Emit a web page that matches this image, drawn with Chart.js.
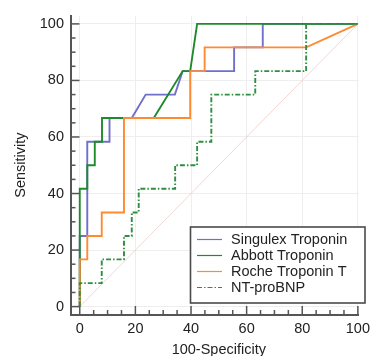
<!DOCTYPE html>
<html>
<head>
<meta charset="utf-8">
<script src="https://cdn.jsdelivr.net/npm/chart.js@4"></script>
<style>
    body { margin: 0; background: #fff; }
    #wrap { width: 376px; height: 356px; }
</style>
</head>
<body>
<div id="wrap"><canvas id="rocChart"></canvas></div>
<script>
const seriesNames = ["Singulex Troponin", "Abbott Troponin", "Roche Troponin T", "NT-proBNP"];
const tickValues = [0, 20, 40, 60, 80, 100];
const xTitle = "100-Specificity";
const yTitle = "Sensitivity";

const singulexX = [0, 0, 2.7, 2.7, 10.7, 10.7, 18.7, 23.7, 34.2, 37.0, 55.5, 55.5, 65.8, 65.8, 100];
const singulexY = [0, 25, 25, 58.3, 58.3, 66.7, 66.7, 75, 75, 83.3, 83.3, 91.7, 91.7, 100, 100];

const abbottX = [0, 0, 2.7, 2.7, 5.4, 5.4, 8.0, 8.0, 26.6, 37.0, 39.7, 42.2, 100];
const abbottY = [0, 41.7, 41.7, 50, 50, 58.3, 58.3, 66.7, 66.7, 83.3, 83.3, 100, 100];

const rocheX = [0, 0, 2.7, 2.7, 7.9, 7.9, 15.9, 15.9, 39.7, 39.7, 44.9, 44.9, 81.4, 100];
const rocheY = [0, 16.7, 16.7, 25, 25, 33.3, 33.3, 66.7, 66.7, 83.3, 83.3, 91.7, 91.7, 100];

const ntX = [0, 0, 7.9, 7.9, 15.9, 15.9, 18.7, 18.7, 21.2, 21.2, 34.3, 34.3, 42.2, 42.2, 47.3, 47.3, 63.1, 63.1, 81.4, 81.4, 100];
const ntY = [0, 8.3, 8.3, 16.7, 16.7, 25, 25, 33.3, 33.3, 41.7, 41.7, 50, 50, 58.3, 58.3, 75, 75, 83.3, 83.3, 100, 100];

const diagX = [0, 100];
const diagY = [0, 100];

function pts(xs, ys) {
    return xs.map((x, i) => ({ x: x, y: ys[i] }));
}

const FONT = "'Liberation Sans', Arial, sans-serif";

// inward minor/major ticks on both axes
const axisTicks = {
    id: "axisTicks",
    afterDatasetsDraw(chart) {
        const ctx = chart.ctx;
        const xs = chart.scales.x;
        const ys = chart.scales.y;
        const area = chart.chartArea;
        ctx.save();
        ctx.strokeStyle = "#555";
        ctx.lineWidth = 1.5;
        for (let v = 0; v <= 100; v += 5) {
            const len = v % 20 === 0 ? 8.5 : 4.5;
            const px = xs.getPixelForValue(v);
            ctx.beginPath();
            ctx.moveTo(px, area.bottom);
            ctx.lineTo(px, area.bottom - len);
            ctx.stroke();
            const py = ys.getPixelForValue(v);
            ctx.beginPath();
            ctx.moveTo(area.left, py);
            ctx.lineTo(area.left + len, py);
            ctx.stroke();
        }
        // x title centred under the data range
        ctx.font = "14.5px " + FONT;
        ctx.fillStyle = "#222";
        ctx.textAlign = "center";
        ctx.textBaseline = "middle";
        ctx.fillText(xTitle, xs.getPixelForValue(50), 349.5);
        ctx.restore();
    }
};

// boxed legend inside the plot, lower right
const boxLegend = {
    id: "boxLegend",
    afterDraw(chart) {
        const ctx = chart.ctx;
        const x0 = 190.5, y0 = 227, w = 174.5, h = 76;
        ctx.save();
        ctx.fillStyle = "#fff";
        ctx.fillRect(x0, y0, w, h);
        ctx.strokeStyle = "#4a4a4a";
        ctx.lineWidth = 1.6;
        ctx.strokeRect(x0, y0, w, h);
        ctx.font = "14.5px " + FONT;
        ctx.textBaseline = "middle";
        ctx.fillStyle = "#222";
        seriesNames.forEach((name, i) => {
            const ds = chart.data.datasets[i];
            const cy = y0 + 12.5 + i * 16;
            ctx.beginPath();
            ctx.strokeStyle = ds.borderColor;
            ctx.lineWidth = 1.2;
            ctx.setLineDash(ds.borderDash || []);
            ctx.moveTo(197, cy);
            ctx.lineTo(222, cy);
            ctx.stroke();
            ctx.setLineDash([]);
            ctx.fillText(name, 231, cy + 0.5);
        });
        ctx.restore();
    }
};

new Chart(document.getElementById("rocChart"), {
    type: "scatter",
    data: {
        datasets: [
            {
                label: seriesNames[0],
                data: pts(singulexX, singulexY),
                borderColor: "#6f6fcc",
                borderWidth: 1.9,
                order: 4
            },
            {
                label: seriesNames[1],
                data: pts(abbottX, abbottY),
                borderColor: "#1f8a2c",
                borderWidth: 1.9,
                order: 3
            },
            {
                label: seriesNames[2],
                data: pts(rocheX, rocheY),
                borderColor: "#ff8a30",
                borderWidth: 1.9,
                order: 2
            },
            {
                label: seriesNames[3],
                data: pts(ntX, ntY),
                borderColor: "#2e8f40",
                borderWidth: 1.9,
                borderDash: [5, 2, 1.5, 2],
                order: 1
            },
            {
                label: "diagonal",
                data: pts(diagX, diagY),
                borderColor: "rgba(235, 185, 185, 0.6)",
                borderWidth: 1,
                order: 5
            }
        ]
    },
    options: {
        responsive: true,
        maintainAspectRatio: false,
        animation: false,
        showLine: true,
        elements: {
            point: { radius: 0, hoverRadius: 0 },
            line: { tension: 0, fill: false }
        },
        layout: { padding: { top: 12, right: 9, left: 0, bottom: 0 } },
        plugins: {
            legend: { display: false },
            tooltip: { enabled: false }
        },
        scales: {
            x: {
                type: "linear",
                min: -3.15,
                max: 100.35,
                afterBuildTicks: s => { s.ticks = tickValues.map(v => ({ value: v })); },
                afterFit: s => { s.height = 41.5; },
                grid: { color: "#eeeeee", lineWidth: 1, drawTicks: false },
                border: { display: true, color: "#555", width: 2 },
                ticks: {
                    padding: 6,
                    color: "#222",
                    font: { family: FONT, size: 14.5 },
                    maxRotation: 0
                }
            },
            y: {
                type: "linear",
                min: -2.79,
                max: 102.9,
                afterBuildTicks: s => { s.ticks = tickValues.map(v => ({ value: v })); },
                afterFit: s => { s.width = 71; },
                grid: { color: "#eeeeee", lineWidth: 1, drawTicks: false },
                border: { display: true, color: "#555", width: 2 },
                ticks: {
                    padding: 7,
                    color: "#222",
                    font: { family: FONT, size: 14.5 }
                },
                title: {
                    display: true,
                    text: yTitle,
                    color: "#222",
                    font: { family: FONT, size: 14.5 },
                    padding: { top: 12, bottom: 0 }
                }
            }
        }
    },
    plugins: [axisTicks, boxLegend]
});
</script>
</body>
</html>
